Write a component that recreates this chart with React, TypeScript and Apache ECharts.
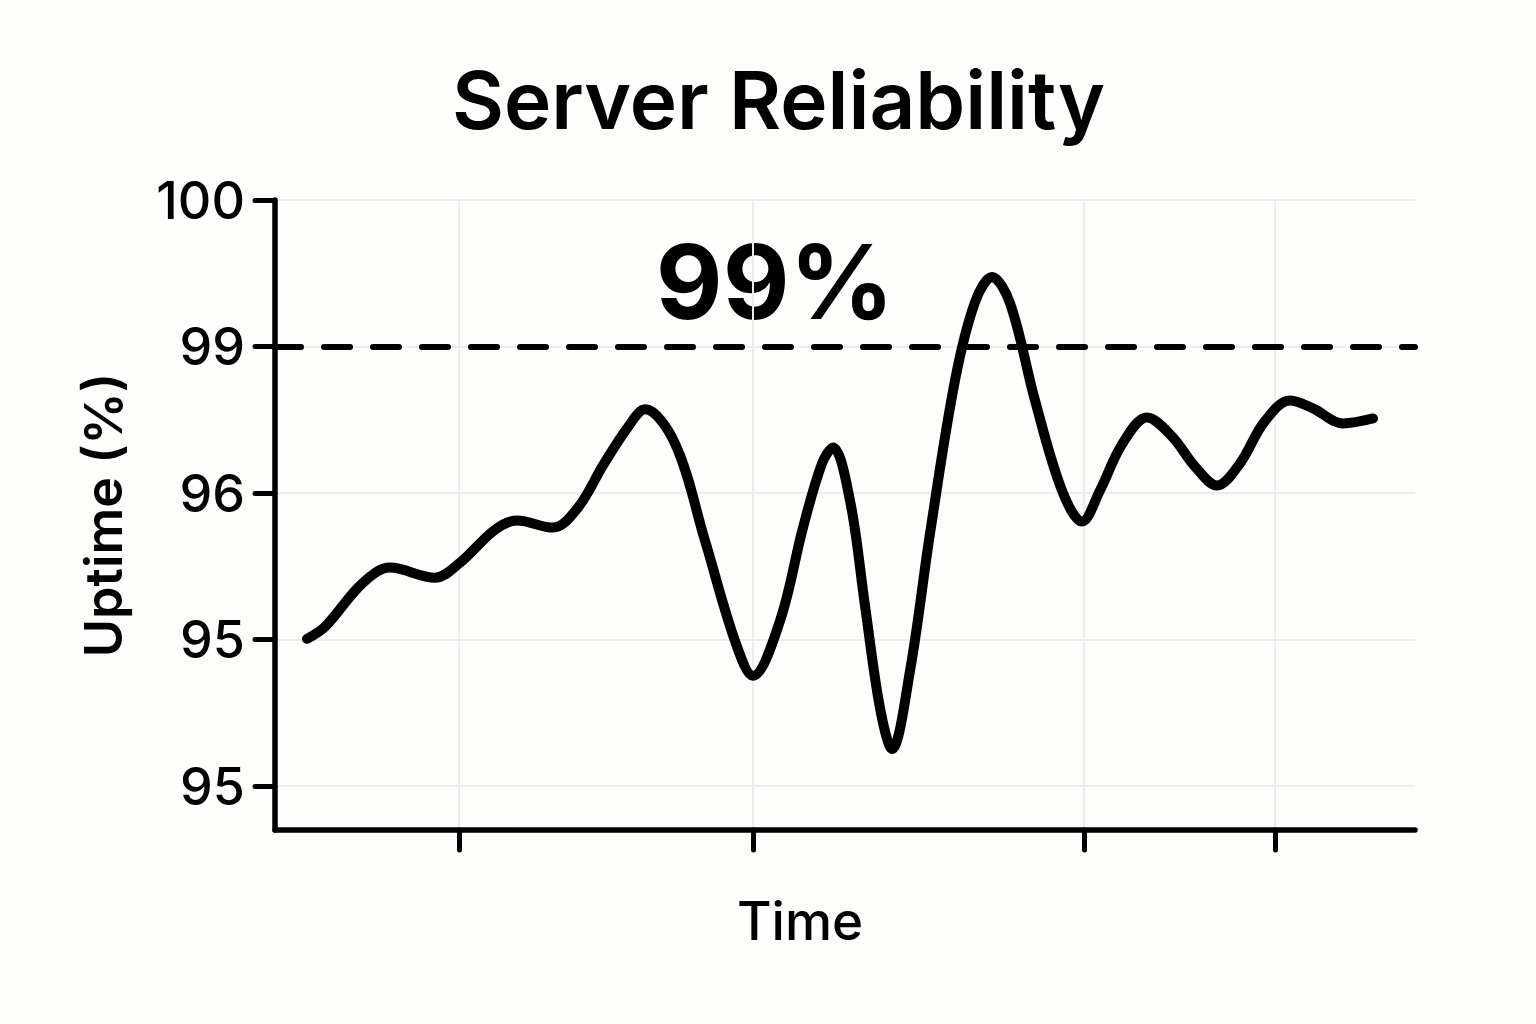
import React, { useEffect, useRef } from "react";
import * as echarts from "echarts";

// y axis: five evenly spaced tick positions with these labels (as printed in the source)
const yTickPositions = [0, 1, 2, 3, 4];
const yTickLabels = ["95", "95", "96", "99", "100"];
// x axis: time ticks (unlabelled)
const xTickPositions = [18.4, 47.8, 80.9, 100];
const targetLevel = 3; // the "99" level
const targetText = "99%";

const timeValues = [
  3.2, 5.0, 8.7, 11.5, 16.0, 18.5, 22.0, 24.2, 27.8, 30.3, 32.8, 35.2, 37.0, 40.0,
  43.0, 46.0, 47.8, 50.5, 52.8, 54.7, 55.8, 57.5, 59.0, 60.5, 61.7, 63.5, 65.5,
  68.0, 70.0, 71.7, 73.5, 76.0, 78.7, 80.7, 82.5, 84.7, 87.2, 89.7, 92.0, 94.2,
  96.5, 98.9, 101.5, 103.8, 106.8, 109.8,
];
const uptimeValues = [
  1.005, 1.087, 1.381, 1.491, 1.422, 1.525, 1.75, 1.812, 1.764, 1.901, 2.188,
  2.441, 2.571, 2.338, 1.675, 0.991, 0.752, 1.128, 1.764, 2.202, 2.311, 1.949,
  1.231, 0.533, 0.253, 0.786, 1.723, 2.769, 3.303, 3.474, 3.296, 2.632, 2.017,
  1.805, 2.017, 2.332, 2.516, 2.386, 2.181, 2.051, 2.202, 2.482, 2.632, 2.578,
  2.475, 2.509,
];

const FONT = "Inter";

export default function App() {
  const ref = useRef<HTMLDivElement>(null);
  useEffect(() => {
    if (!ref.current) return;
    const chart = echarts.init(ref.current, undefined, { renderer: "svg" });
    const data = timeValues.map((t, i) => [t, uptimeValues[i]]);
    chart.setOption({
      animation: false,
      backgroundColor: "#fdfdfb",
      textStyle: { fontFamily: FONT },
      title: {
        text: "Server Reliability",
        left: 452,
        top: 59,
        padding: 0,
        textStyle: { fontFamily: FONT, fontSize: 80, fontWeight: 600, color: "#000" },
      },
      grid: { left: 275, right: 121, top: 200, bottom: 194, containLabel: false },
      xAxis: {
        type: "value",
        min: 0,
        max: 114,
        name: "Time",
        nameLocation: "middle",
        nameGap: 64,
        nameTextStyle: { fontFamily: FONT, fontSize: 53, fontWeight: 500, color: "#000", padding: [0, 90, 0, 0] },
        axisLine: { show: true, onZero: false, lineStyle: { color: "#000", width: 5.5 } },
        axisTick: {
          show: true,
          customValues: xTickPositions,
          length: 20,
          lineStyle: { color: "#000", width: 5, cap: "round" },
        },
        axisLabel: { show: false, customValues: xTickPositions },
        splitLine: { show: true, lineStyle: { color: "#ececec", width: 2 } },
      },
      yAxis: {
        type: "value",
        min: -0.3,
        max: 4,
        name: "Uptime (%)",
        nameLocation: "middle",
        nameRotate: 90,
        nameGap: 146,
        nameTextStyle: { fontFamily: FONT, fontSize: 52, fontWeight: 600, color: "#000" },
        axisLine: { show: true, onZero: false, lineStyle: { color: "#000", width: 5.5 } },
        axisTick: {
          show: true,
          customValues: yTickPositions,
          length: 20,
          lineStyle: { color: "#000", width: 5, cap: "round" },
        },
        axisLabel: {
          show: true,
          customValues: yTickPositions,
          margin: 30,
          fontFamily: FONT,
          fontSize: 52,
          fontWeight: 500,
          color: "#000",
          formatter: (v: number) => yTickLabels[Math.round(v)] ?? "",
        },
        splitLine: { show: true, lineStyle: { color: "#ececec", width: 2 } },
      },
      series: [
        {
          type: "line",
          data,
          smooth: 0.35,
          showSymbol: false,
          symbol: "none",
          lineStyle: { color: "#000", width: 10, cap: "round", join: "round" },
          markLine: {
            silent: true,
            symbol: "none",
            label: { show: false },
            lineStyle: { color: "#000", width: 6, type: [26, 23], cap: "round" },
            data: [{ yAxis: targetLevel }],
          },
          z: 3,
        },
      ],
      graphic: [
        {
          type: "text",
          x: 775,
          y: 281,
          style: {
            text: targetText,
            fontFamily: FONT,
            fontSize: 103,
            fontWeight: 700,
            fill: "#000",
            textAlign: "center",
            textVerticalAlign: "middle",
          },
        },
      ],
    });
    return () => chart.dispose();
  }, []);
  return (
    <div
      ref={ref}
      style={{ position: "absolute", left: 0, top: 0, width: 1536, height: 1024 }}
    />
  );
}
